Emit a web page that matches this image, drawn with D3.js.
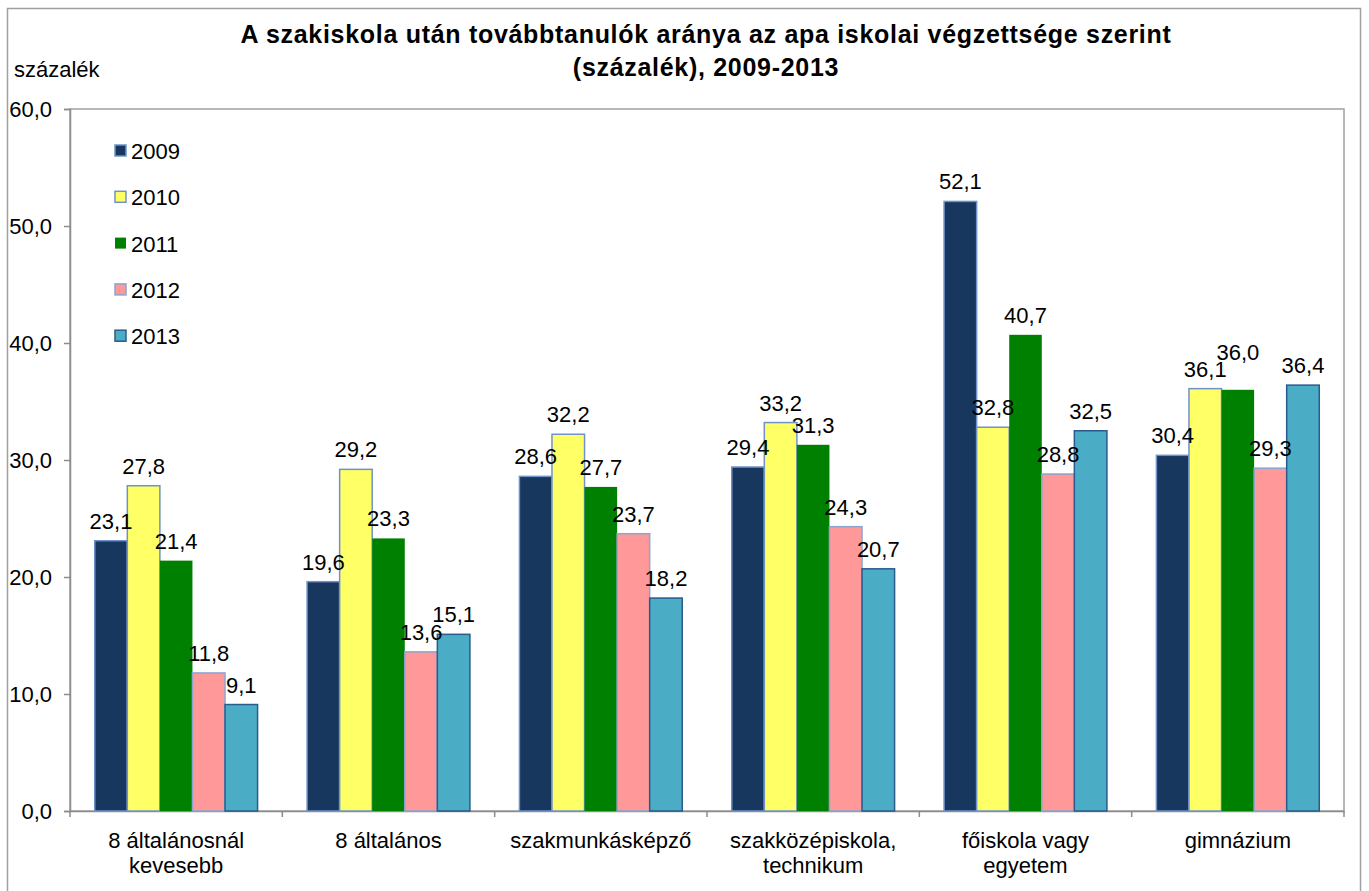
<!DOCTYPE html>
<html>
<head>
<meta charset="utf-8">
<script src="https://cdn.jsdelivr.net/npm/d3@7"></script>
<style>
  body { margin: 0; background: #fff; }
  svg text { font-family: "Liberation Sans", Arial, sans-serif; fill: #000; }
</style>
</head>
<body>
<svg width="1369" height="891"></svg>
<script>
var categories = [
	["8 általánosnál", "kevesebb"],
	["8 általános"],
	["szakmunkásképző"],
	["szakközépiskola,", "technikum"],
	["főiskola vagy", "egyetem"],
	["gimnázium"]
]
var years = ["2009", "2010", "2011", "2012", "2013"]
var v2009 = [23.1, 19.6, 28.6, 29.4, 52.1, 30.4]
var v2010 = [27.8, 29.2, 32.2, 33.2, 32.8, 36.1]
var v2011 = [21.4, 23.3, 27.7, 31.3, 40.7, 36.0]
var v2012 = [11.8, 13.6, 23.7, 24.3, 28.8, 29.3]
var v2013 = [9.1, 15.1, 18.2, 20.7, 32.5, 36.4]
var yTicks = [0, 10, 20, 30, 40, 50, 60]

var series = [v2009, v2010, v2011, v2012, v2013]
var fills = ["#17375e", "#ffff66", "#008000", "#ff9999", "#4bacc6"]
var strokes = ["#6f93c9", "#6f93c9", "none", "#8aa5d0", "#2a5b8c"]

var svg = d3.select("svg")
var plotLeft = 70, plotRight = 1344, plotTop = 109, plotBottom = 811

var fmt = function (d) { return d.toFixed(1).replace(".", ","); }

// outer frame
svg.append("rect")
	.attr("x", 7.5).attr("y", 8.5)
	.attr("width", 1353).attr("height", 900)
	.attr("fill", "none").attr("stroke", "#a0a0a0").attr("stroke-width", 1.5)

// title
var title = svg.append("text")
	.attr("text-anchor", "middle")
	.attr("font-weight", "bold")
	.attr("font-size", "25px")
	.attr("letter-spacing", "0.7px")
title.append("tspan").attr("x", 706).attr("y", 43).text("A szakiskola után továbbtanulók aránya az apa iskolai végzettsége szerint")
title.append("tspan").attr("x", 706).attr("y", 76).text("(százalék), 2009-2013")

svg.append("text")
	.attr("x", 14).attr("y", 77)
	.attr("font-size", "22px")
	.text("százalék")

var x0 = d3.scaleBand().domain(d3.range(categories.length)).range([plotLeft, plotRight])
var x1 = d3.scaleBand().domain(d3.range(years.length))
	.range([0, x0.bandwidth()]).paddingOuter(0.76).paddingInner(0)
var y = d3.scaleLinear().domain([0, 60]).range([plotBottom, plotTop])

// plot area frame
svg.append("rect")
	.attr("x", plotLeft).attr("y", plotTop)
	.attr("width", plotRight - plotLeft).attr("height", plotBottom - plotTop)
	.attr("fill", "none").attr("stroke", "#a0a0a0").attr("stroke-width", 1.5)

// y axis
var yAxis = svg.append("g")
	.attr("transform", "translate(" + plotLeft + ",0)")
	.call(d3.axisLeft(y).tickValues(yTicks).tickFormat(fmt).tickSize(6).tickPadding(12))
yAxis.selectAll("path, line").attr("stroke", "#8c8c8c").attr("stroke-width", 1.5)
yAxis.selectAll("text").attr("font-size", "22px").attr("font-family", "Liberation Sans, Arial, sans-serif").attr("fill", "#000")

// x axis
var xAxis = svg.append("g")
	.attr("transform", "translate(0," + plotBottom + ")")
	.call(d3.axisBottom(x0).tickValues([]).tickSize(0))
xAxis.select("path").attr("stroke", "#8c8c8c").attr("stroke-width", 1.5)
xAxis.selectAll(".sep")
	.data(d3.range(categories.length + 1))
	.enter().append("line")
	.attr("x1", function (i) { return plotLeft + i * x0.bandwidth(); })
	.attr("x2", function (i) { return plotLeft + i * x0.bandwidth(); })
	.attr("y1", 0).attr("y2", 6)
	.attr("stroke", "#8c8c8c").attr("stroke-width", 1.5)

categories.forEach(function (lines, i) {
	var t = svg.append("text")
		.attr("text-anchor", "middle")
		.attr("font-size", "22px")
	lines.forEach(function (l, k) {
		t.append("tspan")
			.attr("x", x0(i) + x0.bandwidth() / 2)
			.attr("y", 848 + k * 25)
			.text(l)
	})
})

// bars
series.forEach(function (vals, s) {
	svg.append("g").selectAll("rect")
		.data(vals)
		.enter().append("rect")
		.attr("x", function (d, i) { return x0(i) + x1(s); })
		.attr("y", function (d) { return y(d); })
		.attr("width", x1.bandwidth())
		.attr("height", function (d) { return plotBottom - y(d); })
		.attr("fill", fills[s])
		.attr("stroke", strokes[s])
		.attr("stroke-width", 1.5)
})

// value labels, nudged up when they would collide with the neighbour on the left
var labels = svg.append("g")
categories.forEach(function (c, i) {
	var prevY = null
	series.forEach(function (vals, s) {
		var ly = y(vals[i]) - 12
		if (prevY !== null && Math.abs(ly - prevY) < 16) ly = prevY - 17
		prevY = ly
		labels.append("text")
			.attr("x", x0(i) + x1(s) + x1.bandwidth() / 2)
			.attr("y", ly)
			.attr("text-anchor", "middle")
			.attr("font-size", "22px")
			.text(fmt(vals[i]))
	})
})

// legend
var legend = svg.append("g")
years.forEach(function (yr, s) {
	var ly = 151 + s * 46.3
	legend.append("rect")
		.attr("x", 115).attr("y", ly - 6)
		.attr("width", 11).attr("height", 11)
		.attr("fill", fills[s])
		.attr("stroke", strokes[s]).attr("stroke-width", 1.5)
	legend.append("text")
		.attr("x", 131).attr("y", ly + 8)
		.attr("font-size", "22px")
		.text(yr)
})
</script>
</body>
</html>
